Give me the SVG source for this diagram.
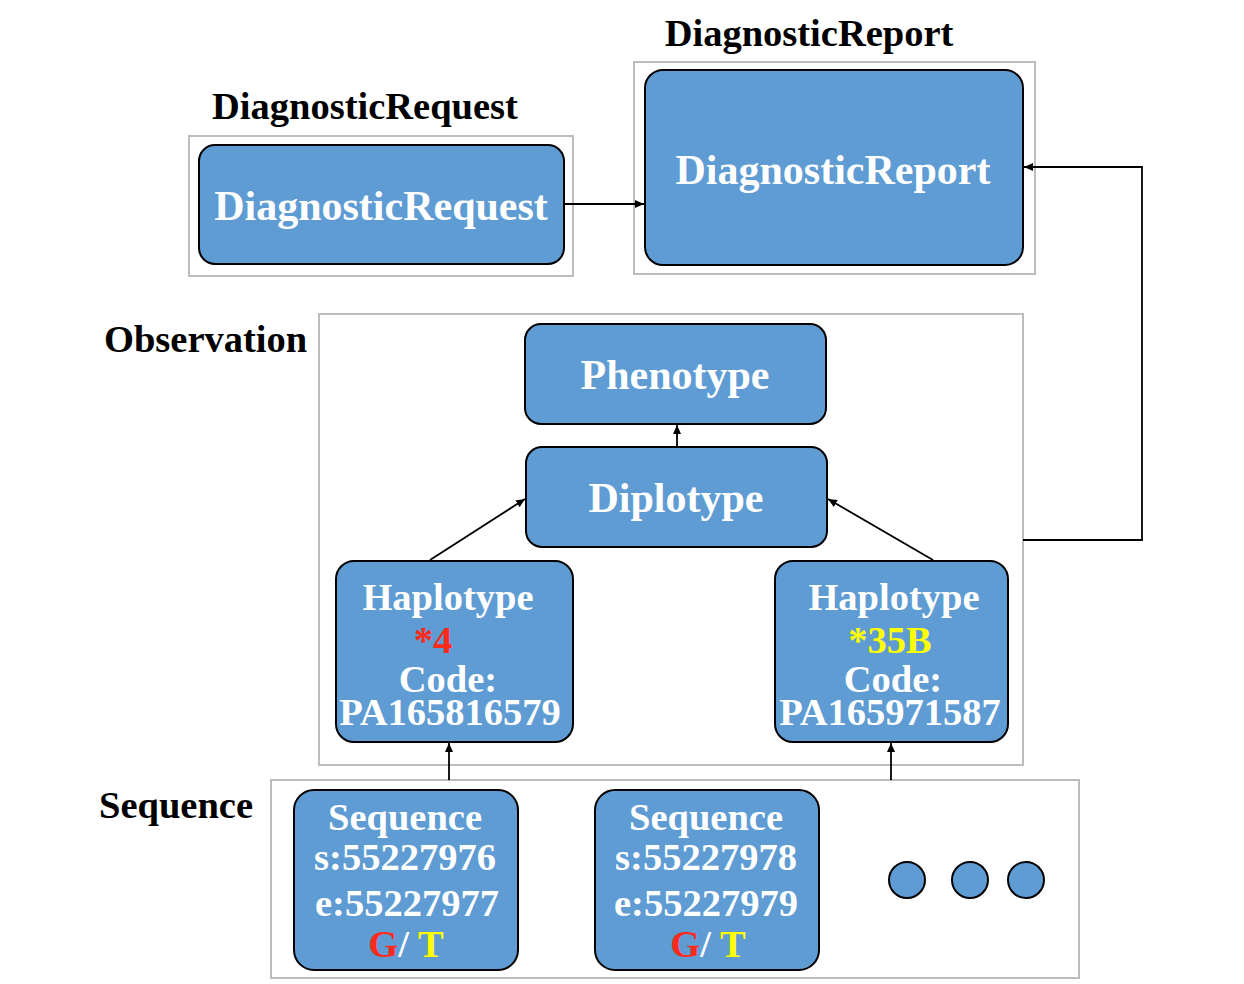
<svg xmlns="http://www.w3.org/2000/svg" width="1244" height="984" viewBox="0 0 1244 984">
<defs>
<marker id="ah" markerUnits="userSpaceOnUse" markerWidth="10" markerHeight="8" refX="9" refY="4" orient="auto">
<path d="M0,0 L9,4 L0,8 Z" fill="#000"/>
</marker>
<style>
.box{fill:#fff;stroke:#bdbdbd;stroke-width:2}
.node{fill:#5e9cd3;stroke:#000;stroke-width:2}
.lbl{font-family:"Liberation Serif","Times New Roman",serif;font-weight:bold;font-size:38.5px;fill:#000}
.nt{font-family:"Liberation Serif","Times New Roman",serif;font-weight:bold;font-size:38.5px;fill:#fff;text-anchor:middle}
.big{font-size:42px}
.red{fill:#ff2a1a}
.yel{fill:#ffff00}
.conn{stroke:#000;stroke-width:1.8;fill:none}
</style>
</defs>
<rect width="1244" height="984" fill="#fff"/>

<g id="containers">
<rect class="box" x="189" y="136" width="384" height="140"/>
<rect class="box" x="634" y="62" width="401" height="212"/>
<rect class="box" x="319" y="314" width="704" height="451"/>
<rect class="box" x="271" y="780" width="808" height="198"/>
</g>

<g id="labels">
<text class="lbl" x="365" y="119" text-anchor="middle">DiagnosticRequest</text>
<text class="lbl" x="809" y="46" text-anchor="middle">DiagnosticReport</text>
<text class="lbl" x="104" y="352">Observation</text>
<text class="lbl" x="99" y="818">Sequence</text>
</g>

<g id="node-diagnosticrequest">
<rect class="node" x="199" y="145" width="365" height="119" rx="16"/>
<text class="nt big" x="381" y="220">DiagnosticRequest</text>
</g>
<g id="node-diagnosticreport">
<rect class="node" x="645" y="70" width="378" height="195" rx="18"/>
<text class="nt big" x="833" y="184">DiagnosticReport</text>
</g>
<g id="node-phenotype">
<rect class="node" x="525" y="324" width="301" height="100" rx="16"/>
<text class="nt big" x="675" y="389">Phenotype</text>
</g>
<g id="node-diplotype">
<rect class="node" x="526" y="447" width="301" height="100" rx="16"/>
<text class="nt big" x="676" y="512">Diplotype</text>
</g>
<g id="node-haplotype-4">
<rect class="node" x="336" y="561" width="237" height="181" rx="18"/>
<text class="nt" x="448" y="610">Haplotype</text>
<text class="nt red" x="433" y="653">*4</text>
<text class="nt" x="448" y="692">Code:</text>
<text class="nt" x="450" y="725">PA165816579</text>
</g>
<g id="node-haplotype-35b">
<rect class="node" x="775" y="561" width="233" height="181" rx="18"/>
<text class="nt" x="894" y="610">Haplotype</text>
<text class="nt yel" x="890" y="653">*35B</text>
<text class="nt" x="893" y="692">Code:</text>
<text class="nt" x="890" y="725">PA165971587</text>
</g>
<g id="node-sequence-1">
<rect class="node" x="294" y="790" width="224" height="180" rx="20"/>
<text class="nt" x="405" y="830">Sequence</text>
<text class="nt" x="405" y="870">s:55227976</text>
<text class="nt" x="407" y="916">e:55227977</text>
<text class="nt" x="406" y="957"><tspan class="red">G</tspan>/ <tspan class="yel">T</tspan></text>
</g>
<g id="node-sequence-2">
<rect class="node" x="595" y="790" width="224" height="180" rx="20"/>
<text class="nt" x="706" y="830">Sequence</text>
<text class="nt" x="706" y="870">s:55227978</text>
<text class="nt" x="706" y="916">e:55227979</text>
<text class="nt" x="708" y="957"><tspan class="red">G</tspan>/ <tspan class="yel">T</tspan></text>
</g>
<g id="node-more">
<circle class="node" cx="907" cy="880" r="18"/>
<circle class="node" cx="970" cy="880" r="18"/>
<circle class="node" cx="1026" cy="880" r="18"/>
</g>

<g id="connectors">
<line class="conn" x1="565" y1="204" x2="644" y2="204" marker-end="url(#ah)"/>
<polyline class="conn" points="1023,540 1142,540 1142,167 1024,167" marker-end="url(#ah)"/>
<line class="conn" x1="677" y1="447" x2="677" y2="425" marker-end="url(#ah)"/>
<line class="conn" x1="430" y1="560" x2="525" y2="499" marker-end="url(#ah)"/>
<line class="conn" x1="933" y1="560" x2="828" y2="499" marker-end="url(#ah)"/>
<line class="conn" x1="449" y1="780" x2="449" y2="743" marker-end="url(#ah)"/>
<line class="conn" x1="891" y1="780" x2="891" y2="743" marker-end="url(#ah)"/>
</g>
</svg>
